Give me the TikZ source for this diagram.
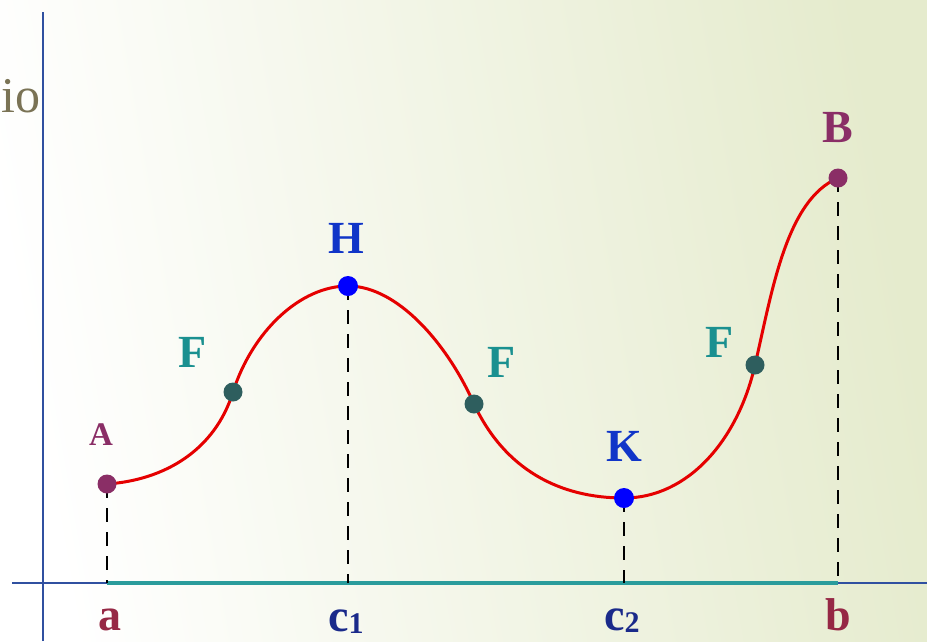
\documentclass[tikz,border=0pt]{standalone}
\usepackage{fontspec}
\setmainfont{Liberation Serif}
\usetikzlibrary{positioning}
\definecolor{axisblue}{HTML}{3050A0}
\definecolor{segteal}{HTML}{2A9C9C}
\definecolor{ptpurple}{HTML}{8A2E66}
\definecolor{ptteal}{HTML}{2E5E5E}
\definecolor{lblteal}{HTML}{1A9090}
\definecolor{lblblue}{HTML}{1035C8}
\definecolor{lbldark}{HTML}{1A2A8A}
\definecolor{lblred}{HTML}{962845}
\definecolor{bggreen}{HTML}{E5EBCD}
\definecolor{olive}{HTML}{7A7355}
\newcommand{\lowidx}[1]{\raisebox{-2pt}{\fontsize{30}{30}\selectfont #1}}

\begin{document}
\begin{tikzpicture}[
  x=1pt, y=-1pt,
  dot/.style={circle, inner sep=0pt, minimum size=20pt},
  lbl/.style={font=\fontsize{46}{46}\selectfont\bfseries, inner sep=0pt},
  guide/.style={black, line width=2.8pt, dash pattern=on 14pt off 10pt},
  curve/.style={red!90!black, line width=3pt}
]
\useasboundingbox (0,0) rectangle (927,641);
\clip (0,0) rectangle (927,641);
\shade[left color=white, right color=bggreen, shading angle=100] (0,0) rectangle (927,641);

% axes
\coordinate (o) at (43,583);
\coordinate (ytop) at (43,12);
\coordinate (ybot) at (43,641);
\coordinate (xleft) at (12,583);
\coordinate (xright) at (927,583);
\draw[axisblue, line width=2.8pt] (ybot) -- (ytop);
\draw[axisblue, line width=2.8pt] (xleft) -- (xright);

% points on the x axis
\coordinate (xa) at (107,583);
\coordinate (xc1) at (348,583);
\coordinate (xc2) at (624,583);
\coordinate (xb) at (838,583);
\draw[segteal, line width=3.4pt] (xa) -- (xb);

% points on the curve
\node[dot] (A) at (107,484) {};
\node[dot] (F1) at (233,392) {};
\node[dot] (H) at (348,286) {};
\node[dot] (F2) at (474,404) {};
\node[dot] (K) at (624,498) {};
\node[dot] (F3) at (755,365) {};
\node[dot] (B) at (838,178) {};

% dashed guides
\draw[guide] (A.center) -- (xa);
\draw[guide] (H.center) -- (xc1);
\draw[guide] (K.center) -- (xc2);
\draw[guide] (B.center) -- (xb);

% the graph
\draw[curve] (A.center) .. controls (165,480) and (215,450) .. (F1.center)
  .. controls (252,332) and (300,286) .. (H.center)
  .. controls (398,286) and (448,345) .. (F2.center)
  .. controls (505,470) and (560,498) .. (K.center)
  .. controls (688,498) and (738,440) .. (F3.center)
  .. controls (772,292) and (786,200) .. (B.center);

% dots
\fill[ptpurple] (A) circle (9.5pt);
\fill[ptpurple] (B) circle (9.5pt);
\fill[ptteal] (F1) circle (9.5pt);
\fill[ptteal] (F2) circle (9.5pt);
\fill[ptteal] (F3) circle (9.5pt);
\fill[blue] (H) circle (10pt);
\fill[blue] (K) circle (10pt);

% labels
\node[lbl, ptpurple, font=\fontsize{33}{33}\selectfont\bfseries] (lA) at (101,435) {A};
\node[lbl, lblteal] (lF1) at (193,352) {F};
\node[lbl, lblblue] (lH) at (346,238) {H};
\node[lbl, lblteal] (lF2) at (502,362) {F};
\node[lbl, lblblue] (lK) at (624,446) {K};
\node[lbl, lblteal] (lF3) at (720,342) {F};
\node[lbl, ptpurple] (lB) at (838,128) {B};

\node[lbl, lblred, anchor=base] (la) at (110,630) {a};
\node[lbl, lbldark, anchor=base] (lc1) at (346,631) {c\lowidx{1}};
\node[lbl, lbldark, anchor=base] (lc2) at (622,630) {c\lowidx{2}};
\node[lbl, lblred, anchor=base] (lb) at (838,630) {b};

\node[olive, font=\fontsize{50}{50}\selectfont, anchor=base east, inner sep=0pt] (cut) at (41,112) {io};
\end{tikzpicture}
\end{document}
